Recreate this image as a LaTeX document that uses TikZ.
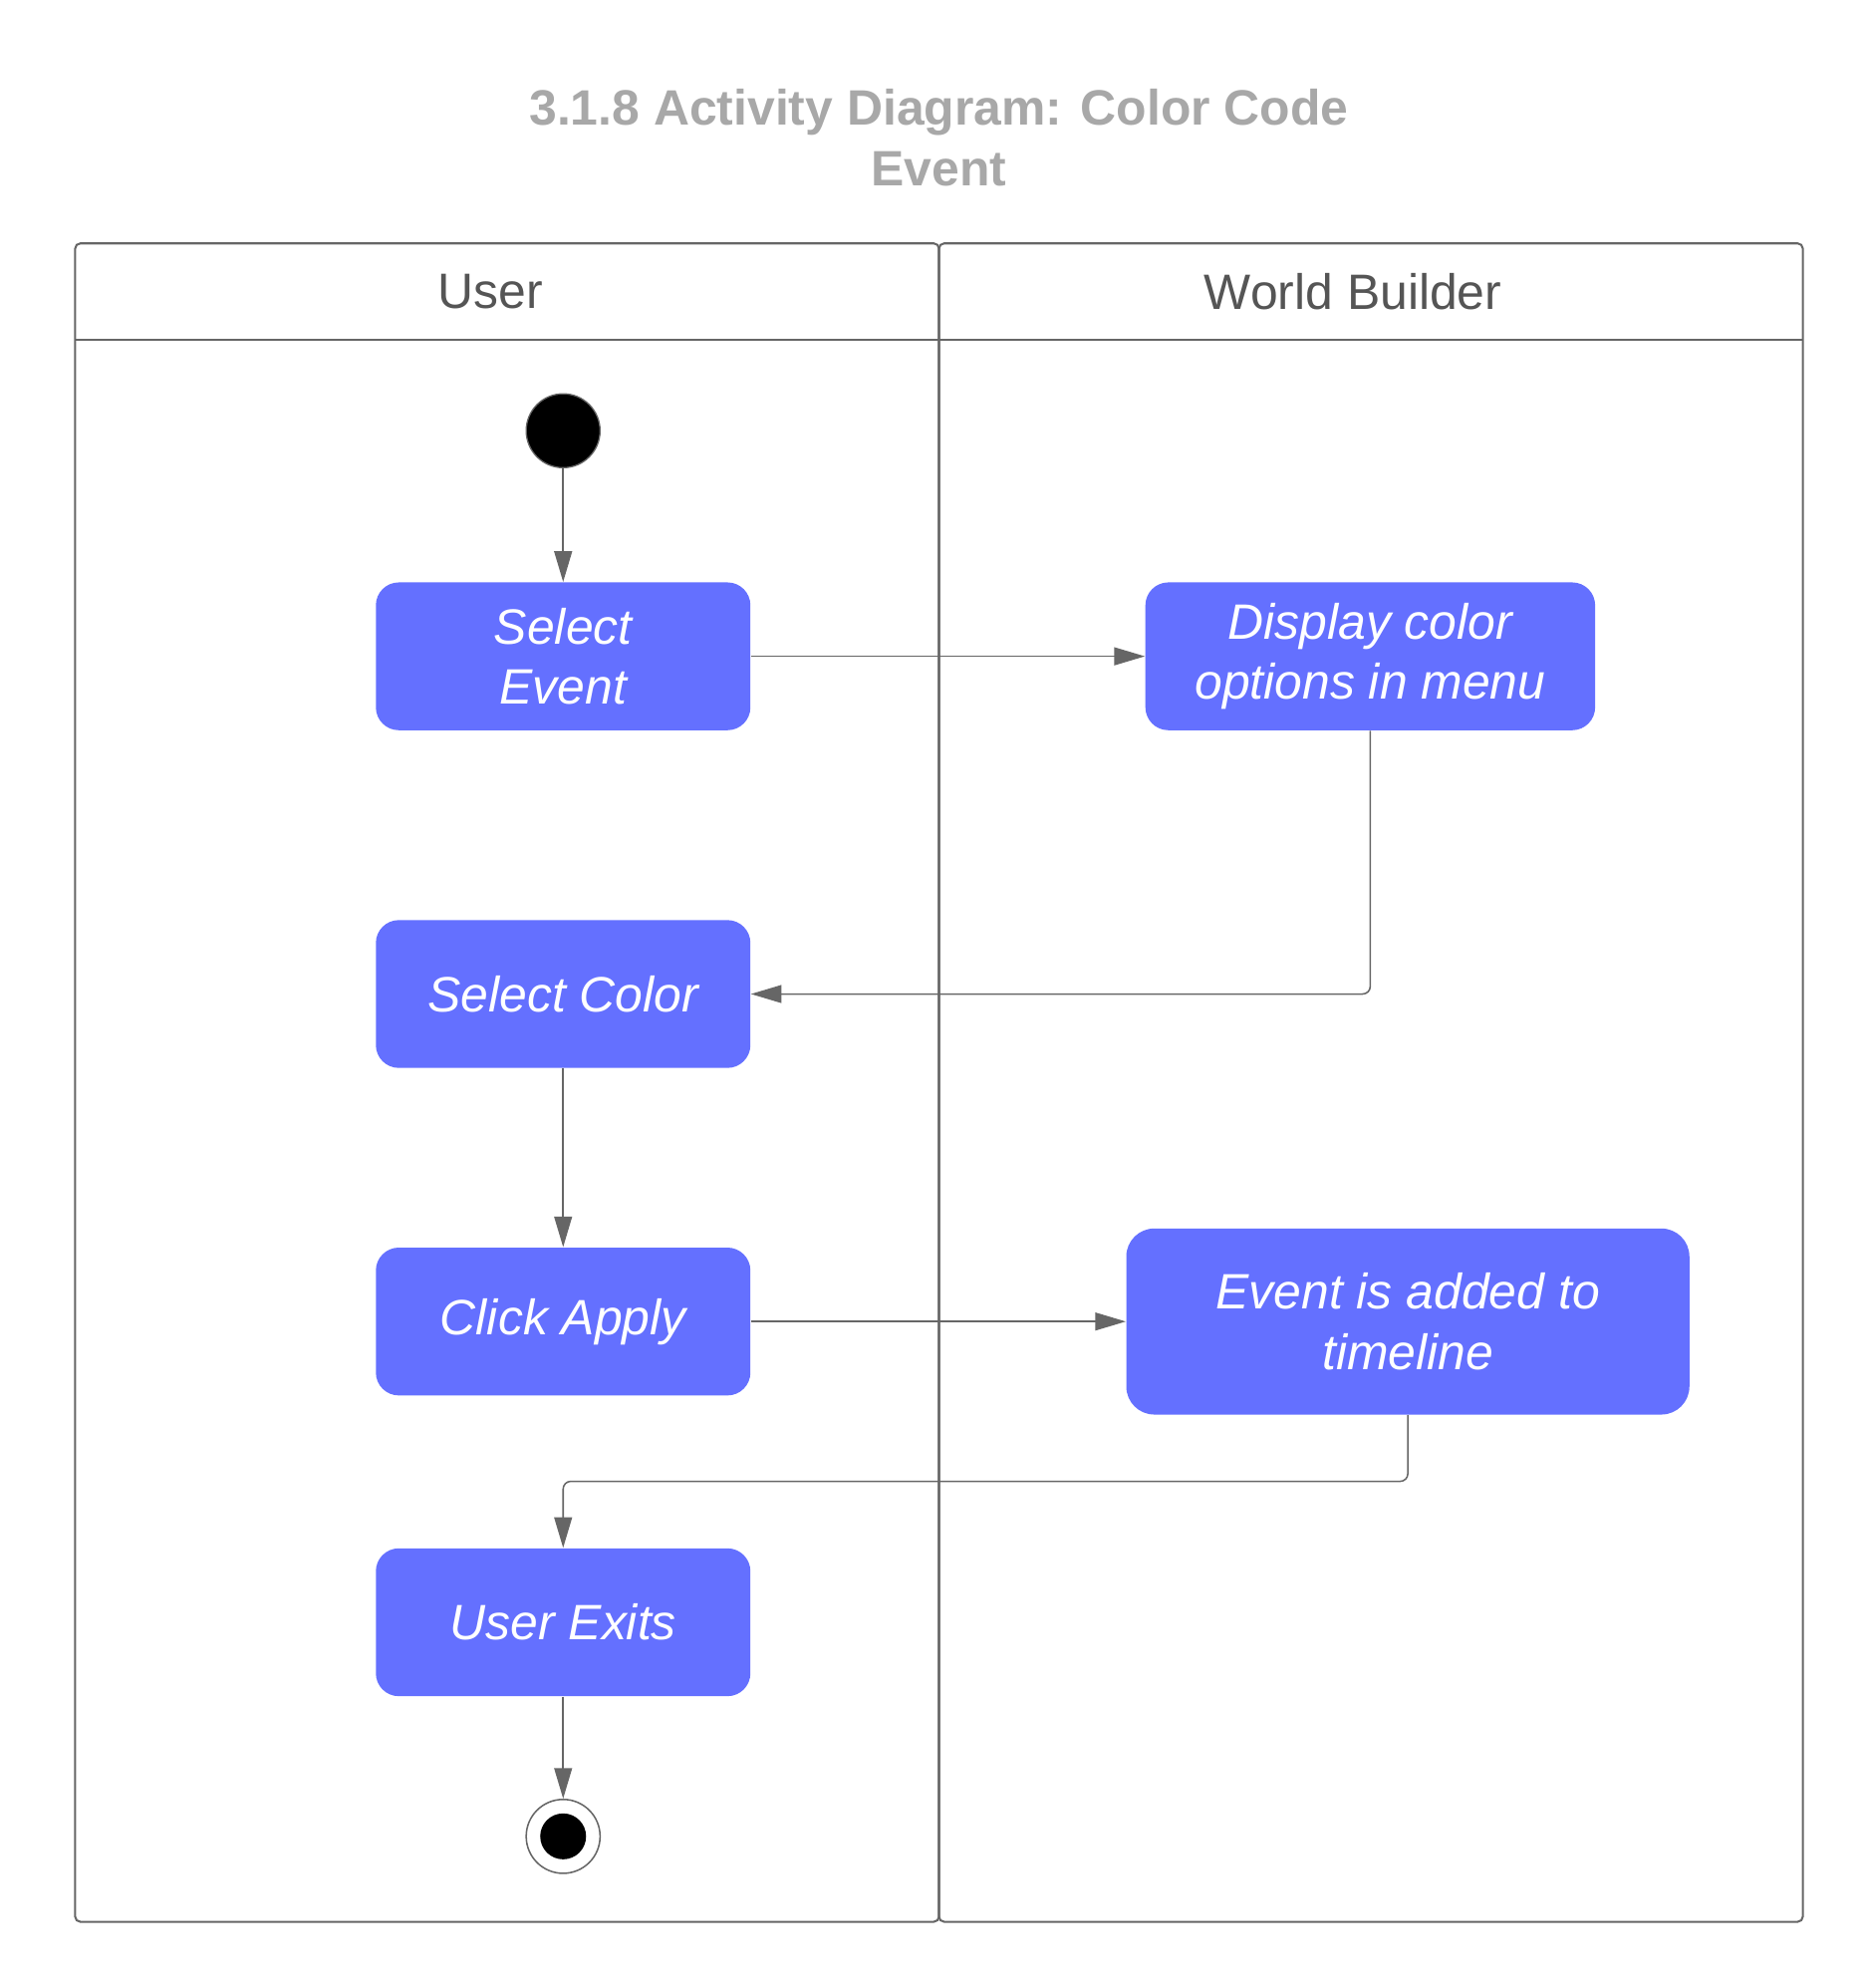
\documentclass[tikz,border=0pt]{standalone}
\usepackage{fontspec}
\setmainfont{Liberation Sans}
\usetikzlibrary{positioning,arrows.meta}
\definecolor{actblue}{HTML}{6470FF}
\definecolor{linegray}{HTML}{666666}
\definecolor{titlegray}{HTML}{A8A8A8}
\definecolor{headgray}{HTML}{555555}

\begin{document}
\begin{tikzpicture}[x=0.5pt,y=-0.5pt,
            act/.style={
              fill=actblue,
              rounded corners=9pt,
              text=white,
              align=center,
              font=\fontsize{19.5}{23.5}\selectfont\itshape,
              minimum width=147pt,
              minimum height=58pt,
              inner sep=0pt
            },
            startdot/.style={
              circle,
              fill=black,
              draw=linegray,
              line width=0.5pt,
              minimum size=29pt,
              inner sep=0pt
            },
            enddot/.style={
              circle,
              fill=white,
              draw=linegray,
              line width=0.6pt,
              minimum size=29pt,
              inner sep=0pt,
              path picture={\fill[black] (path picture bounding box.center) circle (9pt);}
            },
            lane/.style={
              draw=linegray,
              line width=0.8pt,
              rounded corners=2pt
            },
            head/.style={
              text=headgray,
              font=\fontsize{19.5}{23.5}\selectfont,
              inner sep=0pt
            },
            flow/.style={
              draw=linegray,
              line width=0.6pt,
              -{Triangle[length=12pt,width=7pt]}
            }
            ]
            \useasboundingbox (0,0) rectangle (1466,1560);

            % title
            \node[text=titlegray,align=center,
              font=\fontsize{19.5}{23.5}\selectfont\bfseries] (title) at (737,108)
              {3.1.8 Activity Diagram: Color Code\\Event};

            % swimlanes
            \draw[lane] (59,191) rectangle (737,1508);
            \draw[lane] (737,191) rectangle (1415,1508);
            \draw[linegray,line width=0.8pt] (59,267) -- (1415,267);
            \node[head] (userhead) at (385,229) {User};
            \node[head] (builderhead) at (1062,229) {World Builder};

            % activities
            \node[startdot] (start) at (442,338) {};
            \node[act] (selevent) at (442,515) {Select\\Event};
            \node[act,minimum width=176.5pt] (display) at (1075.5,515)
              {Display color\\options in menu};
            \node[act] (selcolor) at (442,780) {Select Color};
            \node[act] (apply) at (442,1037) {Click Apply};
            \node[act,minimum width=221pt,minimum height=73pt,rounded corners=11pt]
              (added) at (1105,1037) {Event is added to\\timeline};
            \node[act] (exits) at (442,1273) {User Exits};
            \node[enddot] (finish) at (442,1441) {};

            \draw[flow] (start) -- (selevent);
            \draw[flow] (selevent) -- (display);
            \draw[flow,rounded corners=3pt] (display.south) |- (selcolor.east);
            \draw[flow] (selcolor) -- (apply);
            \draw[flow] (apply) -- (added);
            \draw[flow,rounded corners=3pt] (added.south) -- ++(0,52) -| (exits.north);
            \draw[flow] (exits) -- (finish);
\end{tikzpicture}
\end{document}
